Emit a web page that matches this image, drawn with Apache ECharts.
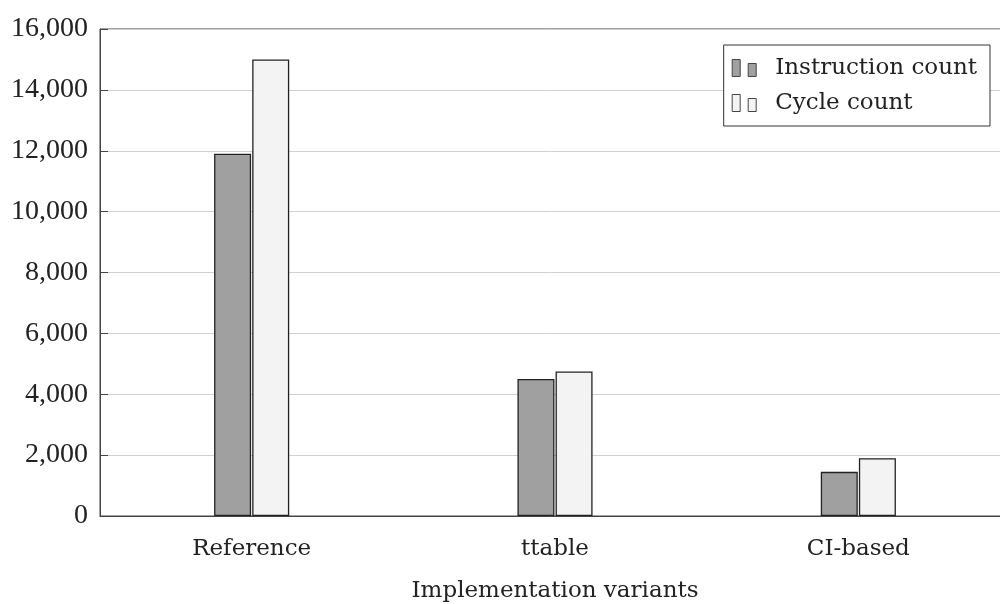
<!DOCTYPE html>
<html>
<head>
<meta charset="utf-8">
<script src="https://cdn.jsdelivr.net/npm/echarts@6/dist/echarts.min.js"></script>
<style>
  html, body { margin: 0; padding: 0; background: #fff; }
  #chart { width: 1000px; height: 604px; }
</style>
</head>
<body>
<div id="chart"></div>
<script>
const categories = ["Reference", "ttable", "CI-based"];
const instructionCount = [11900, 4500, 1450];
const cycleCount = [15000, 4750, 1900];
const yTicks = [0, 2000, 4000, 6000, 8000, 10000, 12000, 14000, 16000];

const font = "'DejaVu Serif', 'Liberation Serif', serif";
const numFont = "'Liberation Serif', serif";
const legendIcon = "path://M0,0h8v17h-8z M16,4h8v13h-8z";

const chart = echarts.init(document.getElementById("chart"));
chart.setOption({
  animation: false,
  textStyle: { fontFamily: font },
  grid: {
    left: 100, top: 29, width: 910, height: 487,
    outerBoundsMode: "none", containLabel: false,
    show: true, borderColor: "#444", borderWidth: 1
  },
  legend: {
    right: 10, top: 45, orient: "vertical",
    padding: [10, 13, 10, 8],
    borderColor: "#333", borderWidth: 1, backgroundColor: "#fff",
    itemWidth: 24, itemHeight: 17, itemGap: 9,
    icon: legendIcon,
    itemStyle: { borderColor: "#444", borderWidth: 1 },
    textStyle: { fontFamily: font, fontSize: 23, lineHeight: 26, color: "#222", padding: [0, 0, 0, 14] },
    data: ["Instruction count", "Cycle count"]
  },
  xAxis: {
    type: "category", data: categories,
    name: "Implementation variants", nameLocation: "middle", nameGap: 64,
    nameTextStyle: { fontFamily: font, fontSize: 23, color: "#222" },
    axisLine: { lineStyle: { color: "#444" } },
    axisTick: { show: false },
    axisLabel: { fontFamily: font, fontSize: 23, color: "#222", margin: 22 }
  },
  yAxis: {
    type: "value", min: 0, max: 16000, interval: 2000,
    axisLine: { show: true, lineStyle: { color: "#444" } },
    axisTick: { show: true, inside: true, length: 8, lineStyle: { color: "#444" } },
    splitLine: { lineStyle: { color: "#d0d0d0" } },
    axisLabel: {
      fontFamily: numFont, fontSize: 28, color: "#222", margin: 12,
      formatter: v => yTicks.includes(v) ? v.toLocaleString("en-US") : ""
    }
  },
  series: [
    {
      name: "Instruction count", type: "bar", data: instructionCount,
      barWidth: 37, barGap: "3%",
      itemStyle: { color: "#a0a0a0", borderColor: "#222", borderWidth: 1.3 }
    },
    {
      name: "Cycle count", type: "bar", data: cycleCount,
      barWidth: 37,
      itemStyle: { color: "#f3f3f3", borderColor: "#222", borderWidth: 1.3 }
    }
  ]
});
</script>
</body>
</html>
